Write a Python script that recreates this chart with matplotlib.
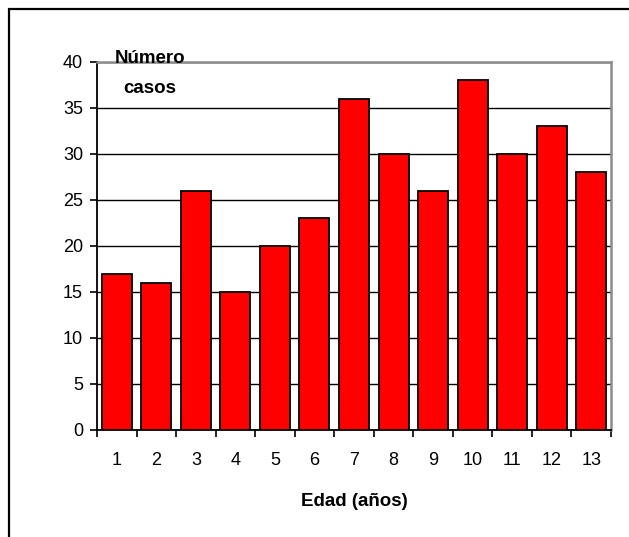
import matplotlib.pyplot as plt
import numpy as np
from matplotlib.patches import Rectangle

plt.rcParams['font.family'] = ['Liberation Sans', 'DejaVu Sans']

edades = ['1', '2', '3', '4', '5', '6', '7', '8', '9', '10', '11', '12', '13']
casos = [17, 16, 26, 15, 20, 23, 36, 30, 26, 38, 30, 33, 28]

fig = plt.figure(figsize=(6.29, 5.37), dpi=100)

# outer chart frame (runs off the right and bottom edges)
fig.patches.append(Rectangle((9 / 629, -0.1), 1.0, 1 - 9 / 537 + 0.1,
                             transform=fig.transFigure, fill=False,
                             edgecolor='black', linewidth=1.6))

ax = fig.add_axes([97 / 629, 1 - 430 / 537, (611 - 97) / 629, (430 - 62) / 537])

x = np.arange(len(edades))
ax.bar(x, casos, width=0.76, color='#ff0000', edgecolor='black',
       linewidth=1.3, zorder=3)

ax.set_xlim(-0.5, len(edades) - 0.5)
ax.set_ylim(0, 40)
ax.set_yticks(np.arange(0, 41, 5))
ax.set_xticks(x)
ax.set_xticklabels(edades)
ax.set_xticks(np.arange(-0.5, len(edades), 1), minor=True)

ax.yaxis.grid(True, color='black', linewidth=1.0, zorder=0)
ax.set_axisbelow(True)

ax.tick_params(axis='y', direction='out', length=5, width=1.2, labelsize=13, pad=5)
ax.tick_params(axis='x', which='major', length=0, labelsize=13, pad=16)
ax.tick_params(axis='x', which='minor', direction='out', length=5, width=1.2)

for side in ['top', 'right']:
    ax.spines[side].set_color('#8c8c8c')
    ax.spines[side].set_linewidth(1.8)
for side in ['left', 'bottom']:
    ax.spines[side].set_color('black')
    ax.spines[side].set_linewidth(1.3)

ax.set_xlabel('Edad (años)', fontsize=13.5, fontweight='bold', labelpad=17)

# y-axis title, two lines over the top-left corner of the plot
fig.text(150 / 629, 1 - 63 / 537, 'Número', ha='center', va='baseline',
         fontsize=13.5, fontweight='bold')
fig.text(150 / 629, 1 - 93 / 537, 'casos', ha='center', va='baseline',
         fontsize=13.5, fontweight='bold')

fig.savefig('out.png', dpi=100)
